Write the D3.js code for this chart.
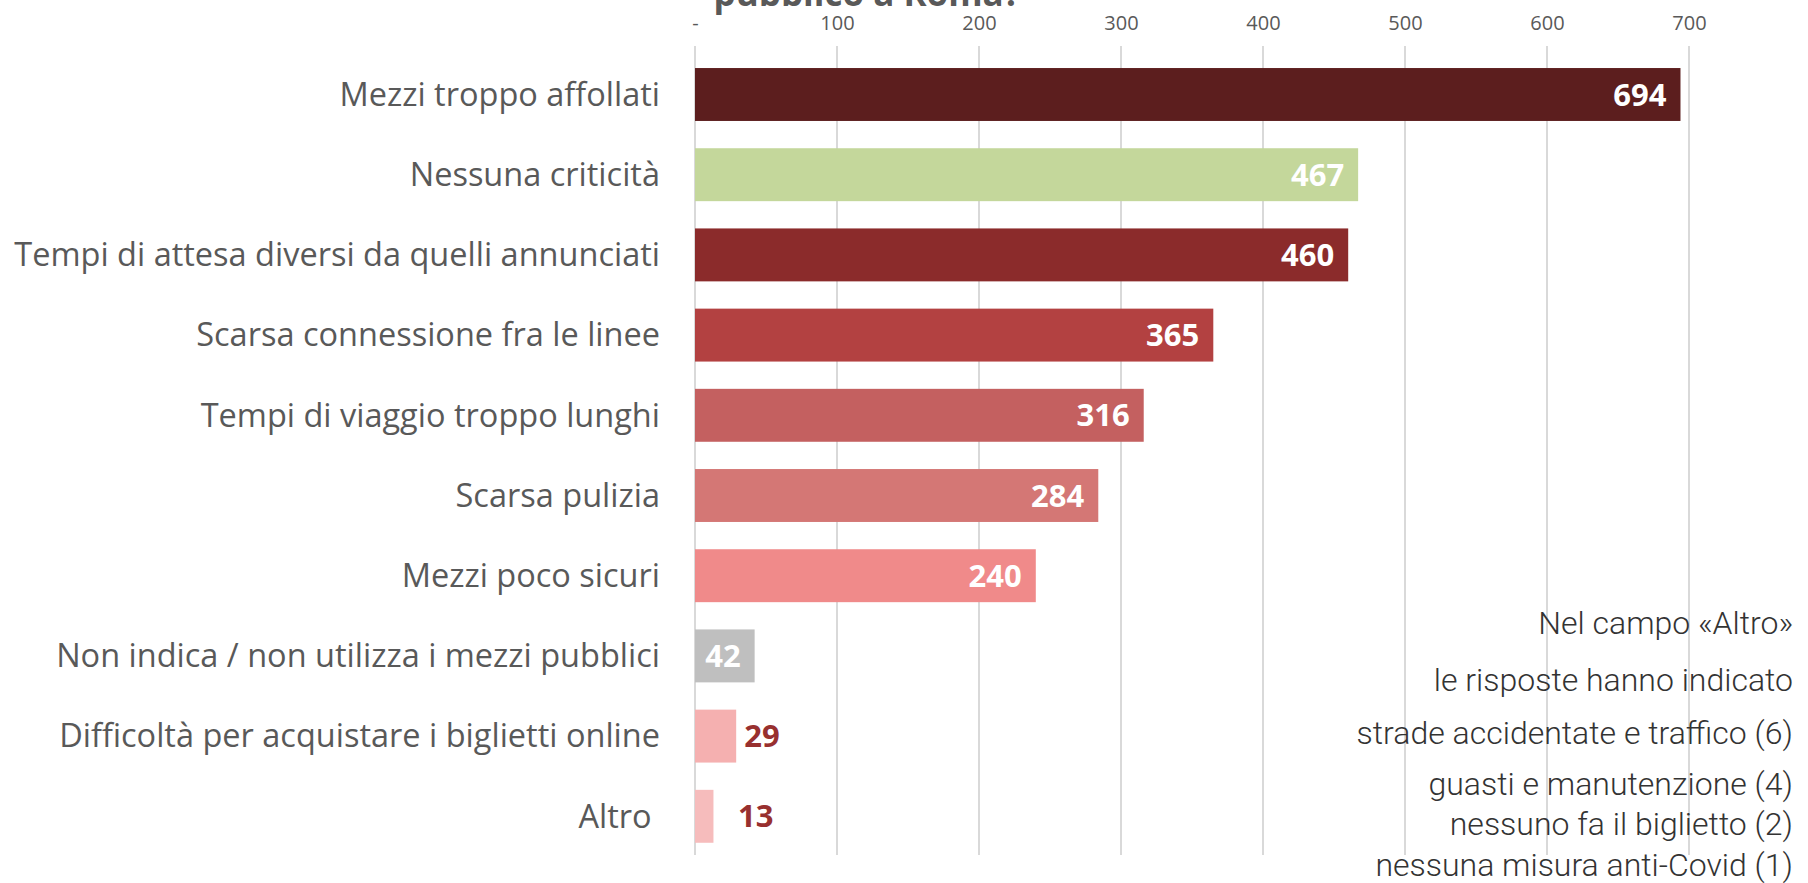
<!DOCTYPE html>
<html>
<head>
<meta charset="utf-8">
<script src="https://cdn.jsdelivr.net/npm/d3@7"></script>
<style>
  body { margin: 0; background: #fff; }
  svg { display: block; }
</style>
</head>
<body>
<script>
// dati
var categorie = ['Mezzi troppo affollati', 'Nessuna criticità', 'Tempi di attesa diversi da quelli annunciati',
  'Scarsa connessione fra le linee', 'Tempi di viaggio troppo lunghi', 'Scarsa pulizia', 'Mezzi poco sicuri',
  'Non indica / non utilizza i mezzi pubblici', 'Difficoltà per acquistare i biglietti online', 'Altro\u00A0'];
var valori = [694, 467, 460, 365, 316, 284, 240, 42, 29, 13];
var colori = ['#5C1E1E', '#C4D79B', '#8B2B2B', '#B34141', '#C46060', '#D47775', '#F08A8A', '#BFBFBF', '#F5B0B0', '#F6BCBC'];
var tickValori = [0, 100, 200, 300, 400, 500, 600, 700];
var note = ['Nel campo «Altro»', 'le risposte hanno indicato', 'strade accidentate e traffico (6)',
  'guasti e manutenzione (4)', 'nessuno fa il biglietto (2)', 'nessuna misura anti-Covid (1)'];
var noteY = [623, 680, 733, 784, 824, 865];

var w = 1808;
var h = 883;

var svg = d3.select('body')
    .append('svg')
    .attr('width', w)
    .attr('height', h);

var x = d3.scaleLinear().domain([0, 700]).range([695, 1689]);
var y = d3.scaleBand().domain(categorie).range([54.4, 856.4]).paddingInner(0.34).paddingOuter(0.17);

// titolo (tagliato in alto come nell'originale)
svg.append('text')
    .text('pubblico a Roma?')
    .attr('x', 867)
    .attr('y', 6)
    .attr('text-anchor', 'middle')
    .attr('font-family', 'Open Sans, sans-serif')
    .attr('font-weight', 'bold')
    .attr('font-size', '35px')
    .attr('fill', '#595959');

// griglia
svg.selectAll('line.grid')
    .data(tickValori)
    .enter()
    .append('line')
    .attr('class', 'grid')
    .attr('x1', function(d){ return x(d); })
    .attr('x2', function(d){ return x(d); })
    .attr('y1', 46)
    .attr('y2', 855)
    .attr('stroke', '#D9D9D9')
    .attr('stroke-width', 2);

// asse in alto
var asse = svg.append('g')
    .attr('transform', 'translate(0,33)')
    .call(d3.axisTop(x).tickValues(tickValori).tickSize(0)
        .tickFormat(function(d){ return d === 0 ? '-' : d; }));
asse.select('.domain').remove();
asse.selectAll('text')
    .attr('font-family', 'Open Sans, sans-serif')
    .attr('font-size', '20px')
    .attr('fill', '#595959');

// barre
svg.selectAll('rect')
    .data(valori)
    .enter()
    .append('rect')
    .attr('x', x(0))
    .attr('y', function(d, i){ return y(categorie[i]); })
    .attr('width', function(d){ return x(d) - x(0); })
    .attr('height', y.bandwidth())
    .attr('fill', function(d, i){ return colori[i]; });

// etichette categorie
svg.selectAll('text.cat')
    .data(categorie)
    .enter()
    .append('text')
    .attr('class', 'cat')
    .text(function(d){ return d; })
    .attr('x', 660)
    .attr('y', function(d){ return y(d) + y.bandwidth() / 2; })
    .attr('dy', '0.35em')
    .attr('text-anchor', 'end')
    .attr('font-family', 'Open Sans, sans-serif')
    .attr('font-size', '32.5px')
    .attr('fill', '#595959');

// valori
svg.selectAll('text.val')
    .data(valori)
    .enter()
    .append('text')
    .attr('class', 'val')
    .text(function(d){ return d; })
    .attr('x', function(d){ return d < 40 ? Math.max(x(d) + 8, x(0) + 43) : x(d) - 14; })
    .attr('y', function(d, i){ return y(categorie[i]) + y.bandwidth() / 2; })
    .attr('dy', '0.36em')
    .attr('text-anchor', function(d){ return d < 40 ? 'start' : 'end'; })
    .attr('font-family', 'Open Sans, sans-serif')
    .attr('font-weight', 'bold')
    .attr('font-size', '31px')
    .attr('fill', function(d){ return d < 40 ? '#98302F' : '#fff'; });

// nota a destra
svg.selectAll('text.nota')
    .data(note)
    .enter()
    .append('text')
    .attr('class', 'nota')
    .text(function(d){ return d; })
    .attr('x', 1793)
    .attr('y', function(d, i){ return noteY[i]; })
    .attr('dy', '0.35em')
    .attr('text-anchor', 'end')
    .attr('font-family', 'Roboto, sans-serif')
    .attr('font-weight', 300)
    .attr('font-size', '32px')
    .attr('fill', '#333');
</script>
</body>
</html>
